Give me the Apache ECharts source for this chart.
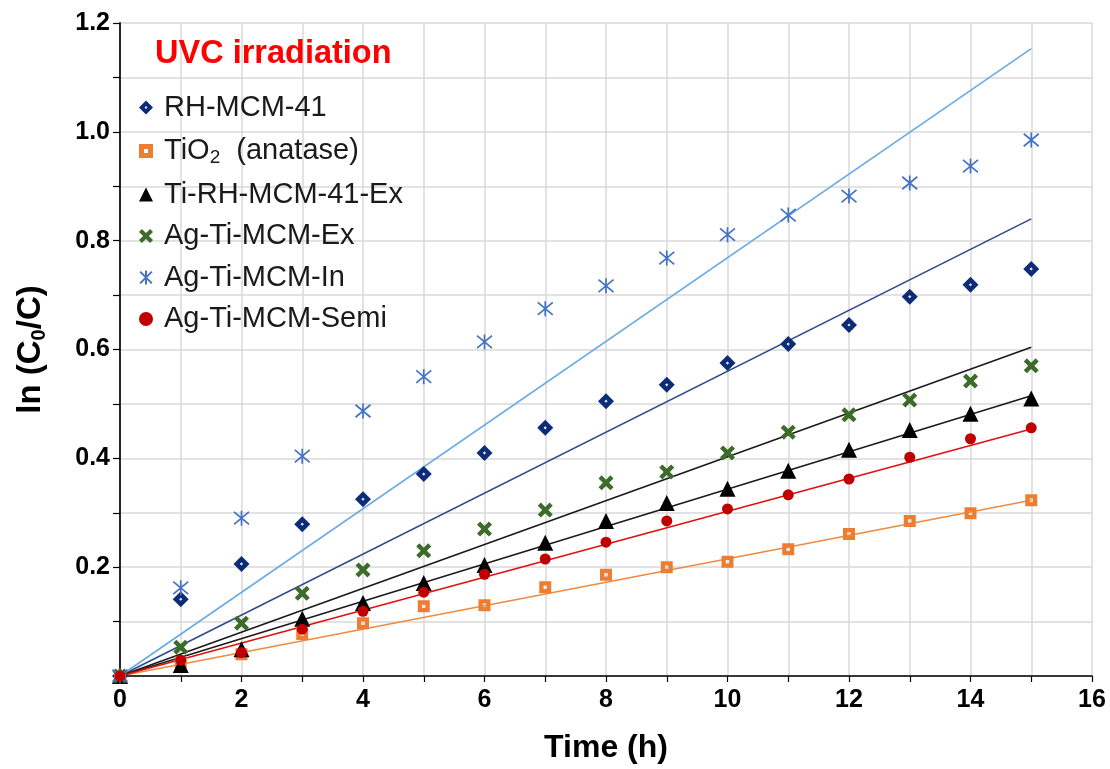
<!DOCTYPE html>
<html>
<head>
<meta charset="utf-8">
<script src="https://cdn.jsdelivr.net/npm/echarts@6/dist/echarts.min.js"></script>
<style>
  html, body { margin: 0; padding: 0; background: #fff; }
  #chart { width: 1110px; height: 769px; }
</style>
</head>
<body>
<div id="chart"></div>
<script>
// Irradiation time (h)
const hours = [0, 1, 2, 3, 4, 5, 6, 7, 8, 9, 10, 11, 12, 13, 14, 15];

// ln(C0/C) for each sample
const rhMcm41  = [0, 0.141, 0.206, 0.279, 0.325, 0.371, 0.410, 0.456, 0.505, 0.535, 0.575, 0.610, 0.645, 0.697, 0.719, 0.748];
const tio2     = [0, 0.025, 0.040, 0.077, 0.097, 0.128, 0.130, 0.163, 0.186, 0.200, 0.210, 0.233, 0.261, 0.285, 0.299, 0.323];
const tiRhEx   = [0, 0.020, 0.049, 0.105, 0.134, 0.171, 0.204, 0.245, 0.285, 0.318, 0.344, 0.377, 0.416, 0.452, 0.482, 0.510];
const agTiEx   = [0, 0.053, 0.097, 0.152, 0.195, 0.230, 0.270, 0.305, 0.355, 0.375, 0.410, 0.448, 0.480, 0.507, 0.542, 0.570];
const agTiIn   = [0, 0.162, 0.290, 0.404, 0.487, 0.550, 0.614, 0.675, 0.717, 0.768, 0.811, 0.847, 0.882, 0.906, 0.937, 0.985];
const agTiSemi = [0, 0.029, 0.043, 0.086, 0.119, 0.154, 0.187, 0.215, 0.246, 0.285, 0.307, 0.333, 0.362, 0.402, 0.436, 0.456];

// Linear fits through the origin: value of each fit at the last time point
const fitEndTime = 15;
const fitEnds = {
  rhMcm41: 0.840,
  tio2: 0.323,
  tiRhEx: 0.515,
  agTiEx: 0.604,
  agTiIn: 1.153,
  agTiSemi: 0.454
};

const seriesNames = ['RH-MCM-41', 'TiO2 (anatase)', 'Ti-RH-MCM-41-Ex', 'Ag-Ti-MCM-Ex', 'Ag-Ti-MCM-In', 'Ag-Ti-MCM-Semi'];

const FONT = 'Arial, "Liberation Sans", sans-serif';

// Marker shapes: outlined diamond / square drawn as rings (inner hole wound the other way)
const diamondRing = 'path://M6,0 L12,6 L6,12 L0,6 Z M6,4.8 L4.8,6 L6,7.2 L7.2,6 Z';
const squareRing = 'path://M0,0 L10,0 L10,10 L0,10 Z M3.6,3.6 L3.6,6.4 L6.4,6.4 L6.4,3.6 Z';
const crossPath = 'path://M0,2.5 L2.5,0 L6,3.5 L9.5,0 L12,2.5 L8.5,6 L12,9.5 L9.5,12 L6,8.5 L2.5,12 L0,9.5 L3.5,6 Z';
const starPath = 'path://M0,1 L10,11 M10,1 L0,11 M5,0 L5,12';

function pairs(ys) { return hours.map((h, i) => [h, ys[i]]); }

function fitLine(name, end, color) {
  return {
    name: name + ' fit',
    type: 'line',
    data: [[0, 0], [fitEndTime, end]],
    symbol: 'none',
    silent: true,
    z: 1,
    lineStyle: { color: color, width: 1.6 },
    emphasis: { disabled: true }
  };
}

function scatter(name, ys, symbol, size, itemStyle) {
  return {
    name: name,
    type: 'scatter',
    data: pairs(ys),
    symbol: symbol,
    symbolSize: size,
    itemStyle: Object.assign({ opacity: 1 }, itemStyle),
    z: 3,
    emphasis: { disabled: true }
  };
}

const chart = echarts.init(document.getElementById('chart'));

chart.setOption({
  animation: false,
  backgroundColor: '#ffffff',
  title: {
    text: 'UVC irradiation',
    left: 150,
    top: 33,
    textStyle: { color: '#ff0000', fontSize: 32.5, fontWeight: 'bold', fontFamily: FONT }
  },
  legend: {
    orient: 'vertical',
    left: 134,
    top: 88,
    itemWidth: 14,
    itemHeight: 14,
    itemGap: 12.5,
    data: [
      { name: seriesNames[0], icon: diamondRing },
      { name: seriesNames[1], icon: squareRing },
      { name: seriesNames[2], icon: 'triangle' },
      { name: seriesNames[3], icon: crossPath },
      { name: seriesNames[4], icon: starPath },
      { name: seriesNames[5], icon: 'circle' }
    ],
    formatter: function (name) {
      if (name === seriesNames[1]) return '{n|TiO}{s|2}{n|  (anatase)}';
      return '{n|' + name + '}';
    },
    textStyle: {
      fontFamily: FONT,
      fontSize: 29,
      color: '#1a1a1a',
      padding: [0, 0, 0, 6],
      rich: {
        n: { fontSize: 29, lineHeight: 30, color: '#1a1a1a', fontFamily: FONT },
        s: { fontSize: 19, lineHeight: 16, padding: [14, 0, 0, 0], color: '#1a1a1a', fontFamily: FONT }
      }
    }
  },
  grid: { left: 120, right: 18, top: 23, bottom: 93, containLabel: false },
  xAxis: {
    type: 'value',
    min: 0,
    max: 16,
    interval: 1,
    name: 'Time (h)',
    nameLocation: 'middle',
    nameGap: 56,
    nameTextStyle: { fontSize: 32, fontWeight: 'bold', color: '#000', fontFamily: FONT },
    axisLine: { show: true, onZero: false, lineStyle: { color: '#000', width: 1.5 } },
    axisTick: { show: true, inside: false, length: 6, lineStyle: { color: '#000', width: 1.2 } },
    splitLine: { show: true, lineStyle: { color: '#d9d9d9', width: 1.5 } },
    axisLabel: {
      margin: 12,
      fontSize: 25,
      fontWeight: 'bold',
      color: '#000',
      fontFamily: FONT,
      formatter: function (v) { return Math.round(v) % 2 === 0 ? String(Math.round(v)) : ''; }
    }
  },
  yAxis: [{
    type: 'value',
    min: 0,
    max: 1.2,
    interval: 0.1,
    name: '{b|ln (C}{s|0}{b|/C)}',
    nameLocation: 'middle',
    nameGap: 72,
    nameRotate: 90,
    nameTextStyle: {
      rich: {
        b: { fontSize: 33, fontWeight: 'bold', color: '#000', fontFamily: FONT, lineHeight: 34 },
        s: { fontSize: 20, fontWeight: 'bold', color: '#000', fontFamily: FONT, lineHeight: 18, padding: [16, 0, 0, 0] }
      }
    },
    axisLine: { show: true, onZero: false, lineStyle: { color: '#000', width: 1.5 } },
    axisTick: { show: true, inside: false, length: 7, lineStyle: { color: '#000', width: 1.2 } },
    splitLine: { show: true, lineStyle: { color: '#d9d9d9', width: 1.5 } },
    axisLabel: {
      margin: 10,
      fontSize: 25,
      fontWeight: 'bold',
      color: '#000',
      fontFamily: FONT,
      formatter: function (v) {
        const k = Math.round(v * 10);
        return (k > 0 && k % 2 === 0) ? (k / 10).toFixed(1) : '';
      }
    }
  }, {
    type: 'value',
    position: 'right',
    min: 0,
    max: 1.2,
    interval: 0.1,
    axisLine: { show: true, lineStyle: { color: '#222', width: 1.5 } },
    axisTick: { show: false },
    axisLabel: { show: false },
    splitLine: { show: false }
  }],
  series: [
    fitLine(seriesNames[0], fitEnds.rhMcm41, '#2f4a8a'),
    fitLine(seriesNames[1], fitEnds.tio2, '#f08a3e'),
    fitLine(seriesNames[2], fitEnds.tiRhEx, '#1a1a1a'),
    fitLine(seriesNames[3], fitEnds.agTiEx, '#1a1a1a'),
    fitLine(seriesNames[4], fitEnds.agTiIn, '#6aaae4'),
    fitLine(seriesNames[5], fitEnds.agTiSemi, '#e01010'),
    scatter(seriesNames[0], rhMcm41, diamondRing, 16, { color: '#0c2c78' }),
    scatter(seriesNames[1], tio2, squareRing, 12, { color: '#ed7d31' }),
    scatter(seriesNames[2], tiRhEx, 'triangle', 16, { color: '#000000' }),
    scatter(seriesNames[3], agTiEx, crossPath, 15, { color: '#3d6b29' }),
    scatter(seriesNames[4], agTiIn, starPath, 15, { color: '#4472c4', borderColor: '#4472c4', borderWidth: 1.7 }),
    scatter(seriesNames[5], agTiSemi, 'circle', 11, { color: '#c00000' })
  ]
});
</script>
</body>
</html>
